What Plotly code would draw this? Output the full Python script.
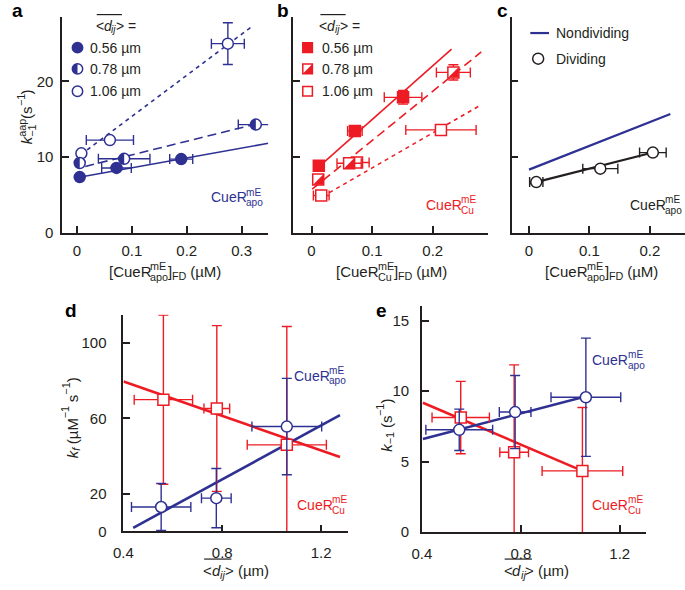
import math
import plotly.graph_objects as go

W, H = 685, 590
BLUE = '#2E3192'
RED = '#ED1C24'
INK = '#231F20'
FONT = 'Liberation Sans, Arial, Helvetica, sans-serif'

# ================= DATA =================
# Panel a : CueR_apo, k_-1^app vs [CueR_apo]_FD for three mean distances
a_056_x = [0.005, 0.072, 0.190]
a_056_y = [7.36, 8.57, 9.74]
a_056_xerr = [0, 0.027, 0.021]
a_078_x = [0.005, 0.086, 0.326]
a_078_y = [9.22, 9.78, 14.3]
a_078_xerr = [0, 0.047, 0.032]
a_106_x = [0.008, 0.060, 0.275]
a_106_y = [10.5, 12.25, 25.0]
a_106_xerr = [0, 0.043, 0.030]
a_106_yerr = [0, 0, 2.75]
a_fit_slope = [13.0, 18.0, 54.3]
a_fit_icpt = [7.3, 8.5, 9.95]
a_fit_x0 = [0.004, 0.015, 0.0185]
a_fit_x1 = [0.349, 0.330, 0.318]

# Panel b : CueR_Cu
b_056_x = [0.012, 0.0715, 0.151]
b_056_y = [8.87, 13.47, 17.9]
b_056_xerr = [0, 0.012, 0.031]
b_056_yerr = [0, 0.5, 0.9]
b_078_x = [0.011, 0.062, 0.234]
b_078_y = [7.05, 9.2, 21.2]
b_078_xerr = [0, 0.02, 0.028]
b_078_yerr = [0, 0, 1.0]
b_106_x = [0.016, 0.075, 0.2135]
b_106_y = [4.93, 9.3, 13.6]
b_106_xerr = [0.013, 0.02, 0.058]
b_fit_slope = [71.0, 65.0, 46.3]
b_fit_icpt = [7.86, 5.7, 3.95]
b_fit_x0 = [0.004, 0.001, 0.0065]
b_fit_x1 = [0.231, 0.280, 0.2775]

# Panel c : nondividing fit vs dividing cells (CueR_apo)
c_nondiv_slope = 31.4
c_nondiv_icpt = 8.35
c_nondiv_xr = [0.0, 0.234]
c_div_x = [0.012, 0.118, 0.205]
c_div_y = [6.7, 8.48, 10.6]
c_div_xerr = [0.011, 0.029, 0.022]
c_div_slope = 20.3
c_div_icpt = 6.45
c_div_xr = [0.002, 0.205]

# Panel d : k_f vs <d_ij>
d_apo_x = [0.553, 0.776, 1.061]
d_apo_y = [13.0, 17.7, 55.7]
d_apo_xerr = [0.12, 0.06, 0.141]
d_apo_yerr = [12.5, 15.7, 25.6]
d_cu_x = [0.562, 0.778, 1.061]
d_cu_y = [70.0, 65.3, 46.0]
d_cu_xerr = [0.118, 0.052, 0.16]
d_cu_yerr = [44.9, 44.0, 62.8]
d_fit_cu = dict(slope=-45.8, icpt=97.97, xr=[0.401, 1.276])
d_fit_apo = dict(slope=71.5, icpt=-29.5, xr=[0.44, 1.276])

# Panel e : k_-1 vs <d_ij>
e_apo_x = [0.551, 0.777, 1.063]
e_apo_y = [7.26, 8.52, 9.57]
e_apo_xerr = [0.135, 0.064, 0.141]
e_apo_yerr = [1.47, 2.6, 4.2]
e_cu_x = [0.557, 0.773, 1.049]
e_cu_y = [8.13, 5.67, 4.34]
e_cu_xerr = [0.116, 0.058, 0.163]
e_cu_yerr = [2.57, 6.2, 4.5]
e_fit_cu = dict(slope=-7.5, icpt=12.21, xr=[0.404, 1.049])
e_fit_apo = dict(slope=4.58, icpt=4.76, xr=[0.404, 1.065])

legend_dist = ['0.56 \u00b5m', '0.78 \u00b5m', '1.06 \u00b5m']

# ================= HELPERS =================
def pxx(px):
    return px / W


def pxy(py):
    return 1 - py / H


CW = {' ': 278, '(': 333, ')': 333, '[': 278, ']': 278, '-': 333, '\u2212': 584, '.': 278,
      '<': 584, '>': 584, '=': 584, '\u00b5': 577,
      'C': 722, 'D': 722, 'E': 667, 'F': 611, 'M': 833, 'N': 722, 'R': 722,
      'a': 556, 'c': 500, 'd': 556, 'e': 556, 'g': 556, 'i': 222, 'j': 222, 'k': 500,
      'l': 222, 'm': 833, 'n': 556, 'o': 556, 'p': 556, 's': 500, 'u': 556, 'v': 500,
      'f': 278, 't': 278, 'r': 333}
for _d in '0123456789':
    CW[_d] = 556


def tw(s, size):
    return sum(CW.get(c, 556) for c in s) * size / 1000.0


def esc(s):
    return s.replace('&', '&amp;').replace('<', '&lt;').replace('>', '&gt;')


annotations = []
shapes = []


def P(raw, size=1.0, rise=0.0, italic=False):
    return dict(kind='t', raw=raw, size=size, rise=rise, italic=italic)


def S(sup, sub, size=0.72):
    return dict(kind='s', sup=sup, sub=sub, size=size)


def rich(pieces, x0, y0, base=15, color=INK, vertical=False, up=0.38, down=-0.36):
    def put(raw, s, rise_px, italic, adv):
        html = esc(raw)
        if italic:
            html = '<i>' + html + '</i>'
        f = dict(family=FONT, size=s, color=color)
        if vertical:
            annotations.append(dict(xref='paper', yref='paper', x=pxx(x0 - rise_px), y=pxy(y0 - adv),
                                    text=html, showarrow=False, xanchor='center', yanchor='bottom',
                                    textangle=-90, font=f, borderpad=0))
        else:
            annotations.append(dict(xref='paper', yref='paper', x=pxx(x0 + adv), y=pxy(y0 - rise_px),
                                    text=html, showarrow=False, xanchor='left', yanchor='middle',
                                    font=f, borderpad=0))
    adv = 0.0
    for p in pieces:
        if p['kind'] == 's':
            s = base * p['size']
            put(p['sup'], s, up * base, False, adv)
            put(p['sub'], s, down * base, False, adv)
            adv += max(tw(p['sup'], s), tw(p['sub'], s))
        else:
            s = base * p['size']
            put(p['raw'], s, p['rise'] * base, p['italic'], adv)
            adv += tw(p['raw'], s)
    return adv


def dij_pieces(tail):
    return [P('<'), P('d', italic=True), P('ij', 0.72, -0.3, True), P(tail)]


def dij_title(x0, y0, tail, base, gap=0.8):
    rich(dij_pieces(tail), x0, y0, base=base)
    w = tw('<', base) + tw('d', base) + tw('ij', base * 0.72) + tw('>', base)
    shapes.append(dict(type='line', xref='paper', yref='paper', x0=pxx(x0 + 2), x1=pxx(x0 + w - 1),
                       y0=pxy(y0 - gap * base), y1=pxy(y0 - gap * base),
                       line=dict(color=INK, width=1.2)))


def semicircle_path(r):
    pts = []
    for k in range(0, 19):
        t = math.pi * k / 18
        pts.append((-r * math.sin(t), r * math.cos(t)))
    return 'M ' + ' L '.join('%.2f,%.2f' % p for p in pts) + ' Z'


def tri_path(s):
    return 'M %.2f,%.2f L %.2f,%.2f L %.2f,%.2f Z' % (s, s, s, -s, -s, -s)


def half_marker(xref, yref, x, y, path, color):
    shapes.append(dict(type='path', xref=xref, yref=yref, xsizemode='pixel', ysizemode='pixel',
                       xanchor=x, yanchor=y, path=path, fillcolor=color, line=dict(width=0),
                       layer='above'))


def sym_marker(kind, xp, yp, color, r=5.2, fill=True):
    shapes.append(dict(type=kind, xref='paper', yref='paper', xsizemode='pixel', ysizemode='pixel',
                       xanchor=pxx(xp), yanchor=pxy(yp), x0=-r, x1=r, y0=-r, y1=r,
                       fillcolor=color if fill else 'white', line=dict(color=color, width=1.5),
                       layer='above'))


# ================= FIGURE =================
fig = go.Figure()
MS = 11


def fitline(xa, ya, xr, slope, icpt, color, dash='solid', width=1.6):
    fig.add_trace(go.Scatter(x=list(xr), y=[slope * v + icpt for v in xr], mode='lines',
                             line=dict(color=color, width=width, dash=dash),
                             xaxis=xa, yaxis=ya, showlegend=False, hoverinfo='skip',
                             cliponaxis=False))


def points(xa, ya, x, y, color, symbol, filled, xerr=None, yerr=None, clip=False, lw=1.5):
    kw = {}
    if xerr is not None:
        kw['error_x'] = dict(type='data', array=xerr, color=color, thickness=1.4, width=5)
    if yerr is not None:
        kw['error_y'] = dict(type='data', array=yerr, color=color, thickness=1.4, width=5)
    fig.add_trace(go.Scatter(x=x, y=y, mode='markers', xaxis=xa, yaxis=ya, showlegend=False,
                             marker=dict(symbol=symbol, size=MS, color=color if filled else 'white',
                                         line=dict(color=color, width=lw)),
                             cliponaxis=clip, **kw))


DASHES = ['solid', '9px,5px', '4px,4px']

# ---- panel a
for i in range(3):
    fitline('x', 'y', [a_fit_x0[i], a_fit_x1[i]], a_fit_slope[i], a_fit_icpt[i], BLUE, DASHES[i])
points('x', 'y', a_106_x, a_106_y, BLUE, 'circle', False, a_106_xerr, a_106_yerr)
points('x', 'y', a_078_x, a_078_y, BLUE, 'circle', False, a_078_xerr)
points('x', 'y', a_056_x, a_056_y, BLUE, 'circle', True, a_056_xerr)
for xv, yv in zip(a_078_x, a_078_y):
    half_marker('x', 'y', xv, yv, semicircle_path(5.5), BLUE)

# ---- panel b
for i in range(3):
    fitline('x2', 'y2', [b_fit_x0[i], b_fit_x1[i]], b_fit_slope[i], b_fit_icpt[i], RED, DASHES[i])
points('x2', 'y2', b_106_x, b_106_y, RED, 'square', False, b_106_xerr)
points('x2', 'y2', b_078_x, b_078_y, RED, 'square', False, b_078_xerr, b_078_yerr)
points('x2', 'y2', b_056_x, b_056_y, RED, 'square', True, b_056_xerr, b_056_yerr)
for xv, yv in zip(b_078_x, b_078_y):
    half_marker('x2', 'y2', xv, yv, tri_path(5.2), RED)

# ---- panel c
fitline('x3', 'y3', c_nondiv_xr, c_nondiv_slope, c_nondiv_icpt, BLUE, 'solid', 2.2)
fitline('x3', 'y3', c_div_xr, c_div_slope, c_div_icpt, INK, 'solid', 2.2)
points('x3', 'y3', c_div_x, c_div_y, INK, 'circle', False, c_div_xerr)

# ---- panel d
fitline('x4', 'y4', d_fit_cu['xr'], d_fit_cu['slope'], d_fit_cu['icpt'], RED, 'solid', 2.6)
fitline('x4', 'y4', d_fit_apo['xr'], d_fit_apo['slope'], d_fit_apo['icpt'], BLUE, 'solid', 2.6)
points('x4', 'y4', d_cu_x, d_cu_y, RED, 'square', False, d_cu_xerr, d_cu_yerr, clip=True)
points('x4', 'y4', d_apo_x, d_apo_y, BLUE, 'circle', False, d_apo_xerr, d_apo_yerr, clip=True)

# ---- panel e
fitline('x5', 'y5', e_fit_cu['xr'], e_fit_cu['slope'], e_fit_cu['icpt'], RED, 'solid', 2.6)
fitline('x5', 'y5', e_fit_apo['xr'], e_fit_apo['slope'], e_fit_apo['icpt'], BLUE, 'solid', 2.6)
points('x5', 'y5', e_cu_x, e_cu_y, RED, 'square', False, e_cu_xerr, e_cu_yerr, clip=True)
points('x5', 'y5', e_apo_x, e_apo_y, BLUE, 'circle', False, e_apo_xerr, e_apo_yerr, clip=True)

# ================= AXES =================
TICKF = dict(family=FONT, size=15, color=INK)


def axis(domain_px, rng, tickvals, ticktext, anchor, horizontal, standoff=4):
    if horizontal:
        dom = [pxx(domain_px[0]), pxx(domain_px[1])]
    else:
        dom = [pxy(domain_px[1]), pxy(domain_px[0])]
    return dict(domain=dom, range=rng, anchor=anchor, showline=True, linecolor=INK, linewidth=1.6,
                ticks='inside', ticklen=7, tickwidth=1.5, tickcolor=INK, showgrid=False,
                zeroline=False, tickmode='array', tickvals=tickvals,
                ticktext=ticktext, showticklabels=ticktext is not None, tickfont=TICKF,
                ticklabelstandoff=standoff, fixedrange=True)


fig.update_layout(
    xaxis=axis([53, 262], [-0.0269, 0.3485], [0, 0.1, 0.2, 0.3], ['0', '0.1', '0.2', '0.3'], 'y', True, 3),
    yaxis=axis([17, 236], [0, 28.55], [0, 10, 20], ['0', '10', '20'], 'x', False, 4),
    xaxis2=axis([287, 485], [-0.0309, 0.291], [0, 0.1, 0.2], ['0', '0.1', '0.2'], 'y2', True, 3),
    yaxis2=axis([17, 236], [0, 28.55], [10, 20], None, 'x2', False),
    xaxis3=axis([509, 685], [-0.0289, 0.2582], [0, 0.1, 0.2], ['0', '0.1', '0.2'], 'y3', True, 3),
    yaxis3=axis([17, 236], [0, 28.55], [10, 20], None, 'x3', False),
    xaxis4=axis([115, 343], [0.4, 1.3084], [0.4, 0.8, 1.2], ['0.4', '0.8', '1.2'], 'y4', True, 7),
    yaxis4=axis([319, 538.8], [0, 115.1], [0, 20, 60, 100], ['0', '20', '60', '100'], 'x4', False, 12),
    xaxis5=axis([418, 645], [0.4, 1.3044], [0.4, 0.8, 1.2], ['0.4', '0.8', '1.2'], 'y5', True, 7),
    yaxis5=axis([310, 539.3], [0, 16.07], [0, 5, 10, 15], ['0', '5', '10', '15'], 'x5', False, 8),
)

# ================= TEXT =================
# panel letters
for lab, xp, yp in [('a', 8, 11), ('b', 277, 11), ('c', 500, 11), ('d', 62, 315), ('e', 377, 315)]:
    annotations.append(dict(xref='paper', yref='paper', x=pxx(xp), y=pxy(yp), text='<b>%s</b>' % lab,
                            showarrow=False, xanchor='center', yanchor='middle',
                            font=dict(family=FONT, size=19, color='black')))

# x titles of a, b, c
for lbl, x0 in [('apo', 99), ('Cu', 330), ('apo', 542)]:
    rich([P('[CueR'), S('mE', lbl), P(']'), P('FD', 0.72, -0.3), P(' (\u00b5M)')], x0, 275,
         up=0.36, down=-0.36)

# y titles
rich([P('k', italic=True), S('aap', '\u22121'), P('(s'), P('\u22121', 0.72, 0.42), P(')')],
     17, 147, vertical=True)
rich([P('k', italic=True), P('f', 0.72, -0.3, True), P(' (\u00b5M'), P('\u22121', 0.72, 0.42),
      P(' s'), P('\u22121', 0.72, 0.42), P(')')], 63, 466, vertical=True)
rich([P('k', italic=True), P('\u22121', 0.72, -0.3), P(' (s'), P('\u22121', 0.72, 0.42), P(')')],
     382, 459, vertical=True)

# x titles of d, e
dij_title(195, 578, '> (\u00b5m)', 15, gap=0.75)
dij_title(500, 578, '> (\u00b5m)', 15, gap=0.75)

# species labels
rich([P('CueR'), S('mE', 'apo')], 203, 200, base=14, color=BLUE)
rich([P('CueR'), S('mE', 'Cu')], 421, 208, base=14, color=RED)
rich([P('CueR'), S('mE', 'apo')], 628, 208, base=14, color=INK)
rich([P('CueR'), S('mE', 'apo')], 287, 381, base=14, color=BLUE)
rich([P('CueR'), S('mE', 'Cu')], 290, 512, base=14, color=RED)
rich([P('CueR'), S('mE', 'apo')], 590, 365, base=14, color=BLUE)
rich([P('CueR'), S('mE', 'Cu')], 590, 512, base=14, color=RED)

# legend of a
dij_title(86, 26, '> =', 14)
leg_y = [48.3, 69.8, 92.5]
sym_marker('circle', 68.5, leg_y[0], BLUE, fill=True)
sym_marker('circle', 68.5, leg_y[1], BLUE, fill=False)
half_marker('paper', 'paper', pxx(68.5), pxy(leg_y[1]), semicircle_path(5.2), BLUE)
sym_marker('circle', 68.5, leg_y[2], BLUE, fill=False)
for t, yy in zip(legend_dist, leg_y):
    rich([P(t)], 80, yy, base=14, color=INK)

# legend of b
dij_title(313, 26, '> =', 14)
sym_marker('rect', 302, leg_y[0], RED, r=4.8, fill=True)
sym_marker('rect', 302, leg_y[1], RED, r=4.8, fill=False)
half_marker('paper', 'paper', pxx(302), pxy(leg_y[1]), tri_path(4.8), RED)
sym_marker('rect', 302, leg_y[2], RED, r=4.8, fill=False)
for t, yy in zip(legend_dist, leg_y):
    rich([P(t)], 316, yy, base=14, color=INK)

# legend of c
shapes.append(dict(type='line', xref='paper', yref='paper', x0=pxx(528), x1=pxx(547),
                   y0=pxy(33.5), y1=pxy(33.5), line=dict(color=BLUE, width=2.2)))
rich([P('Nondividing')], 553, 33.5, base=14, color=INK)
sym_marker('circle', 536, 59.5, INK, r=5.5, fill=False)
rich([P('Dividing')], 553, 59.5, base=14, color=INK)

fig.update_layout(width=W, height=H, margin=dict(l=0, r=0, t=0, b=0), autosize=False,
                  paper_bgcolor='white', plot_bgcolor='white', showlegend=False,
                  annotations=annotations, shapes=shapes, font=dict(family=FONT, color=INK))

fig.write_html('out.html', config={'displayModeBar': False},
               post_script="document.body.style.margin='0px';document.body.style.padding='0px';")
